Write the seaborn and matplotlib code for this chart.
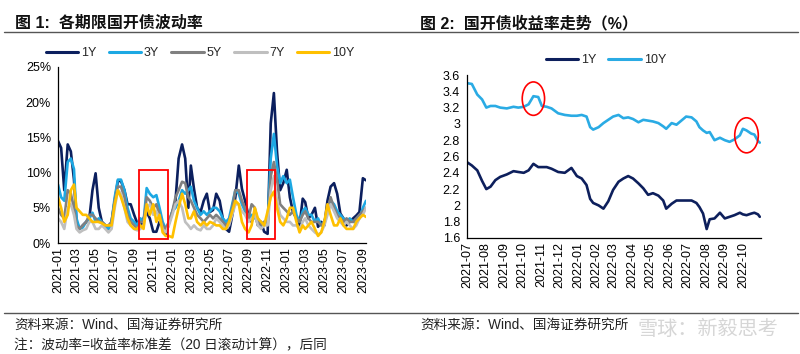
import pandas as pd
import matplotlib
matplotlib.use('Agg')
import matplotlib.pyplot as plt
import matplotlib.dates as mdates
from matplotlib.patches import Rectangle, Ellipse
from matplotlib.lines import Line2D
from matplotlib.ticker import FuncFormatter, MultipleLocator
import seaborn as sns

sns.set_theme(style='white')
plt.rcParams['font.family'] = ['Liberation Sans', 'Noto Sans CJK SC']
plt.rcParams['axes.unicode_minus'] = False

# ---------------- data: left chart (volatility, %) ----------------
vol_months = pd.date_range('2021-01-01', '2023-09-01', freq='MS')
vol_dates = [m + pd.Timedelta(days=d) for m in vol_months for d in (0, 10, 20)][:98]

vol_1y = [14.5, 13.5, 7.5, 14.0, 13.0, 9.0, 3.0, 2.0, 2.5, 3.0, 3.5, 7.5,
          9.9, 5.0, 3.0, 2.5, 2.0, 3.0, 6.0, 8.8, 8.8, 7.5, 5.5, 5.5,
          4.0, 2.8, 2.2, 3.5, 4.4, 3.5, 1.6, 1.6, 3.0, 2.5, 1.1, 2.8,
          4.4, 6.0, 12.0, 14.0, 12.0, 5.0, 11.0, 7.7, 5.0, 4.4, 6.0, 7.0,
          4.4, 4.7, 7.0, 6.0, 3.5, 2.0, 1.6, 3.9, 6.5, 11.0, 7.7, 6.0,
          3.9, 3.0, 4.4, 2.5, 3.0, 1.6, 1.3, 17.0, 21.3, 13.0, 7.5, 8.5,
          10.4, 6.5, 4.4, 3.5, 2.5, 6.3, 5.8, 3.5, 4.0, 5.0, 2.3, 3.0,
          2.5, 6.0, 8.0, 8.5, 7.0, 4.2, 3.5, 2.5, 3.0, 3.5, 3.9, 4.4,
          9.2, 8.9]
vol_3y = [8.3, 6.5, 6.0, 11.5, 12.0, 10.5, 3.5, 2.0, 2.2, 3.0, 3.5, 4.3,
          3.0, 3.5, 3.0, 2.5, 2.0, 3.0, 6.5, 9.0, 9.0, 7.5, 5.0, 3.5,
          3.0, 2.5, 3.5, 3.0, 7.8, 7.0, 6.5, 6.8, 5.0, 3.0, 2.0, 3.0,
          4.5, 5.0, 6.0, 7.5, 7.0, 7.5, 8.0, 6.0, 5.0, 4.0, 4.5, 4.0,
          4.5, 5.0, 5.0, 4.5, 3.5, 3.0, 3.5, 5.5, 7.5, 7.0, 5.5, 4.5,
          3.5, 4.0, 3.5, 3.5, 2.5, 3.0, 3.0, 12.0, 15.5, 11.0, 8.5, 9.5,
          8.5, 9.0, 6.5, 4.0, 3.0, 4.5, 5.0, 4.0, 4.0, 3.0, 3.5, 2.5,
          3.0, 4.5, 6.0, 5.5, 4.5, 4.0, 3.5, 3.0, 3.5, 3.0, 3.0, 3.5,
          5.0, 6.0]
vol_5y = [5.0, 4.0, 3.5, 7.5, 7.0, 5.0, 2.5, 2.0, 2.5, 3.0, 4.0, 4.0,
          3.5, 3.0, 3.0, 2.5, 2.5, 3.0, 6.0, 8.0, 8.0, 6.5, 4.0, 3.0,
          2.5, 2.0, 3.0, 3.0, 6.5, 6.0, 5.0, 5.5, 4.0, 2.5, 2.0, 3.0,
          4.5, 6.5, 7.5, 8.7, 8.5, 6.5, 6.0, 5.0, 4.0, 3.5, 3.0, 3.5,
          4.0, 3.5, 4.0, 3.5, 3.0, 2.5, 3.0, 5.0, 7.5, 7.5, 6.0, 5.0,
          3.5, 5.5, 5.0, 3.0, 2.5, 3.0, 3.0, 9.5, 11.5, 9.0, 5.5, 5.0,
          4.5, 4.0, 4.5, 3.5, 3.0, 4.0, 4.5, 3.5, 3.0, 3.0, 3.0, 2.5,
          3.0, 4.5, 6.5, 5.0, 4.0, 3.5, 3.0, 3.5, 3.0, 3.0, 3.5, 4.0,
          4.5, 5.0]
vol_7y = [3.5, 3.0, 2.0, 5.0, 5.5, 4.0, 2.0, 1.5, 1.8, 2.0, 3.0, 3.0,
          2.0, 2.0, 2.5, 2.0, 1.5, 2.0, 5.0, 7.5, 7.0, 5.0, 3.0, 2.5,
          2.0, 1.8, 2.0, 2.5, 5.0, 5.5, 4.0, 4.5, 3.5, 2.0, 1.5, 2.5,
          4.0, 5.5, 6.0, 5.0, 3.0, 2.5, 2.0, 2.5, 2.0, 1.8, 2.5, 2.0,
          2.0, 2.5, 3.5, 3.0, 2.5, 2.0, 2.5, 4.0, 5.5, 5.5, 4.5, 4.0,
          3.0, 3.5, 4.0, 2.5, 2.0, 2.5, 2.5, 7.5, 9.5, 6.0, 4.0, 3.5,
          3.0, 3.0, 2.5, 2.5, 2.0, 3.0, 3.5, 2.5, 2.0, 1.5, 1.2, 1.5,
          2.5, 4.0, 5.5, 4.5, 3.5, 3.0, 2.5, 3.0, 2.5, 2.0, 2.5, 3.5,
          4.0, 5.0]
vol_10y = [6.5, 5.0, 3.0, 4.0, 7.5, 8.3, 5.0, 4.5, 4.0, 4.0, 3.5, 3.0,
           3.0, 3.0, 2.8, 2.5, 2.5, 2.5, 5.5, 7.5, 6.5, 5.0, 3.5, 2.5,
           2.0, 2.0, 2.5, 2.0, 5.5, 4.0, 5.5, 3.0, 4.0, 1.5, 1.0, 1.0,
           0.8, 3.0, 5.0, 7.0, 5.5, 3.5, 3.5, 4.5, 3.0, 2.5, 3.0, 2.5,
           3.0, 2.8, 2.5, 2.5, 2.0, 2.0, 3.0, 4.5, 6.0, 5.5, 3.0, 2.0,
           1.5, 2.5, 5.0, 3.5, 3.0, 2.5, 4.5, 6.5, 7.3, 5.0, 3.0, 2.5,
           3.5, 5.0, 5.0, 3.0, 1.5, 2.5, 2.0, 2.5, 3.0, 2.0, 1.0, 1.5,
           3.0, 5.5, 4.0, 2.5, 2.5, 3.5, 2.5, 2.0, 2.0, 2.0, 3.0, 3.5,
           4.0, 3.7]

vol_tenors = ['1Y', '3Y', '5Y', '7Y', '10Y']
vol_colors = ['#0B1F5E', '#1CA8E3', '#808080', '#BFBFBF', '#FFC000']
vol_ticks = ['2021-01', '2021-03', '2021-05', '2021-07', '2021-09', '2021-11',
             '2022-01', '2022-03', '2022-05', '2022-07', '2022-09', '2022-11',
             '2023-01', '2023-03', '2023-05', '2023-07', '2023-09']
vol_boxes = [('2021-09-17', '2021-12-19'), ('2022-08-26', '2022-11-23')]

# ---------------- data: right chart (yield, %) ----------------
yld_dates = ['2021-07-01', '2021-07-09', '2021-07-18', '2021-07-26', '2021-08-02', '2021-08-09',
             '2021-08-17', '2021-08-25', '2021-09-05', '2021-09-16', '2021-09-24', '2021-10-03',
             '2021-10-11', '2021-10-19', '2021-10-27', '2021-11-02', '2021-11-10', '2021-11-18',
             '2021-11-29', '2021-12-10', '2021-12-21', '2021-12-30', '2022-01-07', '2022-01-15',
             '2022-01-21', '2022-01-26', '2022-02-04', '2022-02-12', '2022-02-20', '2022-02-28',
             '2022-03-09', '2022-03-17', '2022-03-25', '2022-04-02', '2022-04-11', '2022-04-19',
             '2022-04-27', '2022-05-05', '2022-05-14', '2022-05-22', '2022-05-27', '2022-06-05',
             '2022-06-13', '2022-06-21', '2022-06-29', '2022-07-08', '2022-07-16', '2022-07-21',
             '2022-07-27', '2022-08-02', '2022-08-07', '2022-08-15', '2022-08-24', '2022-09-01',
             '2022-09-09', '2022-09-17', '2022-09-26', '2022-10-01', '2022-10-07', '2022-10-15',
             '2022-10-20', '2022-10-26', '2022-10-29']
yld_10y = [3.50, 3.49, 3.36, 3.30, 3.20, 3.22, 3.22, 3.20, 3.19, 3.21, 3.20, 3.21,
           3.24, 3.34, 3.33, 3.22, 3.21, 3.19, 3.13, 3.11, 3.10, 3.10, 3.11, 3.09,
           2.96, 2.93, 2.96, 3.01, 3.05, 3.09, 3.11, 3.07, 3.08, 3.06, 3.02, 3.05,
           3.04, 3.03, 3.01, 2.97, 2.94, 3.01, 2.99, 3.04, 3.09, 3.08, 3.03, 2.96,
           2.92, 2.89, 2.90, 2.80, 2.83, 2.80, 2.78, 2.81, 2.86, 2.94, 2.92, 2.88,
           2.87, 2.79, 2.77]
yld_1y = [2.53, 2.49, 2.43, 2.30, 2.20, 2.23, 2.31, 2.35, 2.38, 2.42, 2.41, 2.40,
          2.43, 2.51, 2.47, 2.47, 2.47, 2.45, 2.41, 2.40, 2.46, 2.36, 2.33, 2.25,
          2.08, 2.03, 2.00, 1.96, 2.05, 2.19, 2.29, 2.33, 2.36, 2.33, 2.27, 2.21,
          2.13, 2.15, 2.12, 2.06, 1.96, 2.02, 2.06, 2.06, 2.06, 2.06, 2.03, 1.98,
          1.90, 1.71, 1.83, 1.84, 1.91, 1.84, 1.86, 1.88, 1.91, 1.89, 1.88, 1.90,
          1.91, 1.89, 1.86]
yld_tenors = ['1Y', '10Y']
yld_colors = ['#0D1F5C', '#2AABE4']
yld_ticks = ['2021-07', '2021-08', '2021-09', '2021-10', '2021-11', '2021-12',
             '2022-01', '2022-02', '2022-03', '2022-04', '2022-05', '2022-06',
             '2022-07', '2022-08', '2022-09', '2022-10']
yld_circles = [('2021-10-19', 3.31, 37, 0.41), ('2022-10-07', 2.86, 39, 0.43)]

# ---------------- figure ----------------
fig = plt.figure(figsize=(8.0, 3.54), dpi=100)
W, H = 800, 354


def ax_rect(x0, x1, ytop, ybot):
    return [x0 / W, 1 - ybot / H, (x1 - x0) / W, (ybot - ytop) / H]


# left
axL = fig.add_axes(ax_rect(58, 366, 67, 243))
vol_df = pd.DataFrame({'date': pd.to_datetime(vol_dates), '1Y': vol_1y, '3Y': vol_3y,
                       '5Y': vol_5y, '7Y': vol_7y, '10Y': vol_10y})
vol_long = vol_df.melt(id_vars='date', var_name='tenor', value_name='vol')
sns.lineplot(data=vol_long, x='date', y='vol', hue='tenor', hue_order=vol_tenors,
             palette=dict(zip(vol_tenors, vol_colors)), linewidth=1.9, ax=axL, legend=False)
axL.set_xlim(pd.Timestamp('2021-01-01'), pd.Timestamp('2023-09-11'))
axL.set_ylim(0, 25)
axL.yaxis.set_major_locator(MultipleLocator(5))
axL.yaxis.set_major_formatter(FuncFormatter(lambda v, p: f'{v:.0f}%'))
axL.set_xticks(pd.to_datetime(vol_ticks))
axL.set_xticklabels(vol_ticks, rotation=90)
for a, b in vol_boxes:
    x0 = mdates.date2num(pd.Timestamp(a))
    x1 = mdates.date2num(pd.Timestamp(b))
    axL.add_patch(Rectangle((x0, 0.6), x1 - x0, 9.8, fill=False, edgecolor='#FF0000', lw=1.3, zorder=5))
axL.legend(handles=[Line2D([], [], color=c, lw=2.2) for c in vol_colors], labels=vol_tenors,
           ncol=5, frameon=False, loc='center', bbox_to_anchor=(200 / W, 1 - 53 / H),
           bbox_transform=fig.transFigure, fontsize=9, handlelength=2.6, handletextpad=0.2,
           columnspacing=1.0)

# right
axR = fig.add_axes(ax_rect(467, 761, 75, 238))
yld_df = pd.DataFrame({'date': pd.to_datetime(yld_dates), '1Y': yld_1y, '10Y': yld_10y})
yld_long = yld_df.melt(id_vars='date', var_name='tenor', value_name='yield')
sns.lineplot(data=yld_long, x='date', y='yield', hue='tenor', hue_order=yld_tenors,
             palette=dict(zip(yld_tenors, yld_colors)), linewidth=1.9, ax=axR, legend=False)
axR.set_xlim(pd.Timestamp('2021-07-01'), pd.Timestamp('2022-10-31'))
axR.set_ylim(1.6, 3.6)
axR.yaxis.set_major_locator(MultipleLocator(0.2))
axR.yaxis.set_major_formatter(FuncFormatter(lambda v, p: '%g' % round(v, 1)))
axR.set_xticks(pd.to_datetime(yld_ticks))
axR.set_xticklabels(yld_ticks, rotation=90)
for d, v, wd, ht in yld_circles:
    axR.add_patch(Ellipse((mdates.date2num(pd.Timestamp(d)), v), wd, ht, fill=False,
                          edgecolor='#FF0000', lw=1.2, zorder=5))
axR.legend(handles=[Line2D([], [], color=c, lw=2.2) for c in yld_colors], labels=yld_tenors,
           ncol=2, frameon=False, loc='center', bbox_to_anchor=(606 / W, 1 - 60 / H),
           bbox_transform=fig.transFigure, fontsize=9, handlelength=2.6, handletextpad=0.25,
           columnspacing=0.9)

for ax in (axL, axR):
    ax.set_xlabel('')
    ax.set_ylabel('')
    for s in ('top', 'right'):
        ax.spines[s].set_visible(False)
    for s in ('left', 'bottom'):
        ax.spines[s].set_color('black')
        ax.spines[s].set_linewidth(0.9)
    ax.tick_params(axis='both', which='major', direction='out', length=3, width=0.8,
                   color='black', labelsize=9, labelcolor='black', pad=2)
    ax.tick_params(axis='x', direction='in', length=4, pad=3)
    ax.grid(False)

# titles & rules
fig.text(15 / W, 1 - 23 / H, '图 1:  各期限国开债波动率', fontsize=11.5, fontweight='bold',
         va='center', ha='left', color='#111111')
fig.text(420 / W, 1 - 23 / H, '图 2:  国开债收益率走势（%）', fontsize=11.5, fontweight='bold',
         va='center', ha='left', color='#111111')
fig.add_artist(Line2D([4 / W, 798 / W], [1 - 32 / H, 1 - 32 / H], color='#555555', lw=1.0))
fig.add_artist(Line2D([4 / W, 798 / W], [1 - 313 / H, 1 - 313 / H], color='#555555', lw=1.0))

fig.text(14 / W, 1 - 325 / H, '资料来源：Wind、国海证券研究所', fontsize=9.8, va='center', ha='left',
         color='#222222')
fig.text(14 / W, 1 - 345 / H, '注：波动率=收益率标准差（20 日滚动计算），后同', fontsize=9.8,
         va='center', ha='left', color='#222222')
fig.text(420 / W, 1 - 325 / H, '资料来源：Wind、国海证券研究所', fontsize=9.8, va='center', ha='left',
         color='#222222')
fig.text(778 / W, 1 - 329 / H, '雪球：新毅思考', fontsize=14.5, va='center', ha='right',
         color='#BBBBBB', alpha=0.6)

fig.savefig('out.png', dpi=100, facecolor='white')
